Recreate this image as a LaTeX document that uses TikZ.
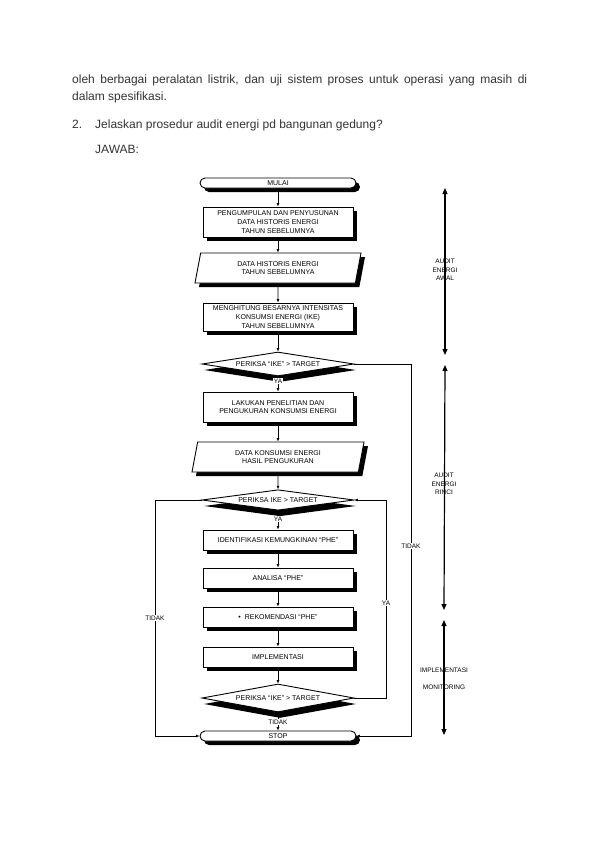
\documentclass[tikz,border=0pt]{standalone}
\usepackage{fontspec}
\setmainfont{Liberation Sans}
\usetikzlibrary{shapes.geometric,shadows,arrows.meta}

\begin{document}
\begin{tikzpicture}[x=1pt, y=-1pt,
  every node/.style={inner sep=1pt},
  doc/.style={anchor=base west, inner sep=0pt, text=black!80, font=\fontsize{12}{17}\selectfont},
  txt/.style={font=\fontsize{7}{8.6}\selectfont, align=center},
  hitam/.style={drop shadow={shadow xshift=4pt, shadow yshift=-4pt, opacity=1, fill=black}},
  proses/.style={txt, draw, line width=0.9pt, fill=white, hitam, minimum width=150pt, minimum height=20pt},
  ujung/.style={proses, rounded corners=5pt, minimum height=10pt, minimum width=156pt},
  datain/.style={txt, draw, line width=0.9pt, fill=white, hitam, trapezium, trapezium left angle=70, trapezium right angle=110, trapezium stretches body, minimum width=166pt, minimum height=30pt},
  periksa/.style={txt, draw, line width=0.9pt, fill=white, diamond, aspect=6, minimum width=152pt, minimum height=24pt, drop shadow={shadow xshift=2pt, shadow yshift=-6pt, opacity=1, fill=black}},
  ket/.style={font=\fontsize{6.5}{7}\selectfont, fill=white, inner sep=0.5pt},
  tahapket/.style={font=\fontsize{6.5}{8.5}\selectfont, align=center, inner sep=0pt},
  panah/.style={-{Latex[length=3.5pt,width=3pt]}, line width=0.8pt},
  tahap/.style={{Triangle[length=6pt,width=5pt]}-{Triangle[length=6pt,width=5pt]}, line width=1.2pt},
  ]
\useasboundingbox (0,0) rectangle (600,849);

% teks soal
\node[doc] (p1) at (72,83) {\makebox[455pt][s]{oleh berbagai peralatan listrik, dan uji sistem proses untuk operasi yang masih di}};
\node[doc] (p2) at (72,100) {dalam spesifikasi.};
\node[doc] (no2) at (72,128) {2.};
\node[doc] (tanya) at (95,128) {Jelaskan prosedur audit energi pd bangunan gedung?};
\node[doc] (jawab) at (95,153) {JAWAB:};

% bagan alir
\node[ujung] (mulai) at (278,183) {MULAI};
\node[proses, minimum height=30pt] (kumpul) at (278,222) {PENGUMPULAN DAN PENYUSUNAN\\DATA HISTORIS ENERGI\\TAHUN SEBELUMNYA};
\node[datain] (histori) at (278,268) {DATA HISTORIS ENERGI\\TAHUN SEBELUMNYA};
\node[proses, minimum height=28pt] (hitungike) at (278,317) {MENGHITUNG BESARNYA INTENSITAS\\KONSUMSI ENERGI (IKE)\\TAHUN SEBELUMNYA};
\node[periksa] (cek1) at (278,364) {PERIKSA ``IKE'' > TARGET};
\node[proses, minimum height=30pt] (ukur) at (278,407) {LAKUKAN PENELITIAN DAN\\PENGUKURAN KONSUMSI ENERGI};
\node[datain, minimum width=172pt] (konsumsi) at (278,457) {DATA KONSUMSI ENERGI\\HASIL PENGUKURAN};
\node[periksa, minimum height=18pt] (cek2) at (278,500) {PERIKSA IKE > TARGET};
\node[proses] (identif) at (278,540) {IDENTIFIKASI KEMUNGKINAN ``PHE''};
\node[proses] (analisa) at (278,578) {ANALISA ``PHE''};
\node[proses] (rekom) at (278,617) {\textbullet\ \ REKOMENDASI ``PHE''};
\node[proses] (implem) at (278,657) {IMPLEMENTASI};
\node[periksa, minimum height=28pt] (cek3) at (278,698) {PERIKSA ``IKE'' > TARGET};
\node[ujung] (stop) at (278,736) {STOP};

\draw[panah] (mulai) -- (kumpul);
\draw[panah] (kumpul) -- (histori);
\draw[panah] (histori) -- (hitungike);
\draw[panah] (hitungike) -- (cek1);
\draw[panah] (cek1) -- (ukur);
\draw[panah] (ukur) -- (konsumsi);
\draw[panah] (konsumsi) -- (cek2);
\draw[panah] (cek2) -- (identif);
\draw[panah] (identif) -- (analisa);
\draw[panah] (analisa) -- (rekom);
\draw[panah] (rekom) -- (implem);
\draw[panah] (implem) -- (cek3);
\draw[panah] (cek3) -- (stop);

% putaran balik
\coordinate (kanan1) at (411,364);
\coordinate (kanan2) at (386,698);
\coordinate (kiri) at (155,500);
\draw[panah] (cek1.east) -- (kanan1) |- (stop.east);
\draw[panah] (cek3.east) -- (kanan2) |- (cek2.east);
\draw[panah] (cek2.west) -- (kiri) |- (stop.west);

\node[ket] (ya1) at (278,381) {YA};
\node[ket] (ya2) at (278,519) {YA};
\node[ket] (tidak1) at (278,722) {TIDAK};
\node[ket] (tidak2) at (411,546) {TIDAK};
\node[ket] (ya3) at (386,603) {YA};
\node[ket] (tidak3) at (155,618) {TIDAK};

% tahapan audit
\coordinate (t0) at (445,188);
\coordinate (t1) at (445,355);
\coordinate (t2) at (445,365);
\coordinate (t3) at (444,610);
\coordinate (t4) at (444,620);
\coordinate (t5) at (444,735);
\draw[tahap] (t0) -- (t1);
\draw[tahap] (t2) -- (t3);
\draw[tahap] (t4) -- (t5);
\node[tahapket] (awal) at (445,270) {AUDIT\\ENERGI\\AWAL};
\node[tahapket] (rinci) at (444,484) {AUDIT\\ENERGI\\RINCI};
\node[tahapket] (impl) at (444,670) {IMPLEMENTASI};
\node[tahapket] (moni) at (444,687) {MONITORING};
\end{tikzpicture}
\end{document}
